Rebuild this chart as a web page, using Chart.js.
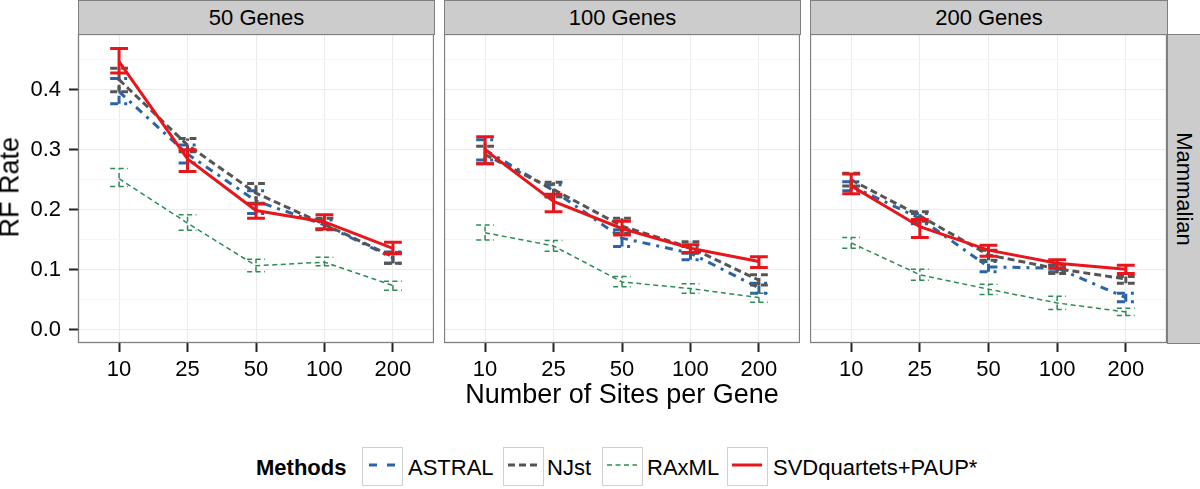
<!DOCTYPE html>
<html>
<head>
<meta charset="utf-8">
<script src="https://cdn.jsdelivr.net/npm/chart.js@4.4.1/dist/chart.umd.min.js"></script>
<style>
  body { margin: 0; background: #fff; font-family: "Liberation Sans", Arial, sans-serif; }
  #page { position: relative; width: 1200px; height: 489px; overflow: hidden; }
  .box { position: absolute; }
  .strip { position: absolute; background: #cccccc; border: 1px solid #7f7f7f; box-sizing: border-box;
           font-size: 22px; color: #000; display: flex; align-items: center; justify-content: center; }
  .txt { position: absolute; white-space: nowrap; color: #000; }
  .key { position: absolute; top: 447px; width: 41px; height: 39px; border: 1.5px solid #d0d0d0; box-sizing: border-box; background: #fff; }
</style>
</head>
<body>
<div id="page">
  <div class="strip" style="left:78px;top:0;width:357px;height:35px">50 Genes</div>
  <div class="strip" style="left:444px;top:0;width:357px;height:35px">100 Genes</div>
  <div class="strip" style="left:810px;top:0;width:358px;height:35px">200 Genes</div>
  <div class="strip" style="left:1167px;top:34px;width:34px;height:310px">
    <span style="transform:rotate(90deg);display:inline-block">Mammalian</span>
  </div>

  <div class="box" style="left:0;top:34px;width:434px;height:360px"><canvas id="p1" width="434" height="360"></canvas></div>
  <div class="box" style="left:444px;top:34px;width:356px;height:360px"><canvas id="p2" width="356" height="360"></canvas></div>
  <div class="box" style="left:810px;top:34px;width:357px;height:360px"><canvas id="p3" width="357" height="360"></canvas></div>

  <div class="txt" style="left:-40px;top:174px;width:100px;text-align:center;font-size:27px;line-height:27px;transform:rotate(-90deg)">RF Rate</div>
  <div class="txt" style="left:422px;top:381px;width:400px;text-align:center;font-size:27px;line-height:27px">Number of Sites per Gene</div>

  <div class="txt" style="left:256px;top:457px;font-size:22px;line-height:22px;font-weight:bold">Methods</div>
  <div class="key" style="left:362px"><svg width="38" height="36"><line x1="6" y1="17" x2="32" y2="17" stroke="#2B63A7" stroke-width="3" stroke-dasharray="8 10"/></svg></div>
  <div class="txt" style="left:408px;top:457px;font-size:22px;line-height:22px">ASTRAL</div>
  <div class="key" style="left:503px"><svg width="38" height="36"><line x1="4" y1="17" x2="34" y2="17" stroke="#555555" stroke-width="3" stroke-dasharray="7 4"/></svg></div>
  <div class="txt" style="left:547px;top:457px;font-size:22px;line-height:22px">NJst</div>
  <div class="key" style="left:602px"><svg width="38" height="36"><line x1="4" y1="17" x2="34" y2="17" stroke="#2E8B57" stroke-width="1.5" stroke-dasharray="5 3.5"/></svg></div>
  <div class="txt" style="left:647px;top:457px;font-size:22px;line-height:22px">RAxML</div>
  <div class="key" style="left:727px"><svg width="38" height="36"><line x1="4" y1="17" x2="34" y2="17" stroke="#E8161B" stroke-width="3"/></svg></div>
  <div class="txt" style="left:773px;top:457px;font-size:22px;line-height:22px">SVDquartets+PAUP*</div>
</div>

<script>
// categories and ticks
var sites = ['10', '25', '50', '100', '200'];
var yTicks = [0, 0.05, 0.1, 0.15, 0.2, 0.25, 0.3, 0.35, 0.4, 0.45];
var methods = ['ASTRAL', 'NJst', 'RAxML', 'SVDquartets+PAUP*'];

// 50 genes
var astral50 = [0.397, 0.293, 0.215, 0.175, 0.120];
var astral50Lo = [0.377, 0.278, 0.194, 0.168, 0.111];
var astral50Hi = [0.419, 0.308, 0.232, 0.183, 0.130];
var njst50 = [0.417, 0.308, 0.228, 0.176, 0.122];
var njst50Lo = [0.397, 0.297, 0.211, 0.167, 0.111];
var njst50Hi = [0.436, 0.319, 0.244, 0.186, 0.129];
var raxml50 = [0.252, 0.178, 0.107, 0.113, 0.074];
var raxml50Lo = [0.239, 0.166, 0.097, 0.107, 0.066];
var raxml50Hi = [0.269, 0.192, 0.118, 0.121, 0.081];
var svd50 = [0.447, 0.285, 0.199, 0.180, 0.136];
var svd50Lo = [0.428, 0.264, 0.186, 0.168, 0.127];
var svd50Hi = [0.469, 0.300, 0.210, 0.192, 0.146];

// 100 genes
var astral100 = [0.300, 0.232, 0.153, 0.128, 0.070];
var astral100Lo = [0.283, 0.222, 0.139, 0.117, 0.061];
var astral100Hi = [0.317, 0.242, 0.167, 0.139, 0.078];
var njst100 = [0.292, 0.234, 0.173, 0.137, 0.083];
var njst100Lo = [0.277, 0.222, 0.161, 0.128, 0.075];
var njst100Hi = [0.306, 0.246, 0.186, 0.147, 0.092];
var raxml100 = [0.162, 0.140, 0.080, 0.069, 0.054];
var raxml100Lo = [0.150, 0.131, 0.072, 0.061, 0.046];
var raxml100Hi = [0.175, 0.149, 0.089, 0.077, 0.061];
var svd100 = [0.300, 0.214, 0.169, 0.136, 0.114];
var svd100Lo = [0.277, 0.197, 0.158, 0.129, 0.104];
var svd100Hi = [0.322, 0.226, 0.181, 0.142, 0.122];

// 200 genes
var astral200 = [0.240, 0.186, 0.105, 0.103, 0.054];
var astral200Lo = [0.232, 0.177, 0.097, 0.097, 0.047];
var astral200Hi = [0.247, 0.194, 0.114, 0.108, 0.061];
var njst200 = [0.250, 0.190, 0.125, 0.102, 0.085];
var njst200Lo = [0.240, 0.181, 0.116, 0.094, 0.078];
var njst200Hi = [0.261, 0.197, 0.133, 0.108, 0.089];
var raxml200 = [0.145, 0.092, 0.068, 0.045, 0.030];
var raxml200Lo = [0.136, 0.083, 0.059, 0.034, 0.024];
var raxml200Hi = [0.154, 0.101, 0.076, 0.056, 0.036];
var svd200 = [0.240, 0.172, 0.133, 0.111, 0.101];
var svd200Lo = [0.227, 0.154, 0.123, 0.103, 0.094];
var svd200Hi = [0.260, 0.184, 0.141, 0.117, 0.108];

// look of each method
var colors = ['#2B63A7', '#555555', '#2E8B57', '#E8161B'];
var widths = [3, 3, 1.5, 3];
var dashes = [[8, 6, 3, 6], [7, 4], [5, 3.5], []];
var order = [4, 3, 2, 1];

function isMajor(v) {
  return Math.abs(v * 10 - Math.round(v * 10)) < 1e-6;
}

// error bars, drawn right after each line so the stacking follows ggplot
var errorBars = {
  id: 'errorBars',
  afterDatasetDraw: function(chart, args) {
    var ds = chart.data.datasets[args.index];
    var xs = chart.scales.x, ys = chart.scales.y;
    var ctx = chart.ctx;
    var a = chart.chartArea;
    ctx.save();
    ctx.beginPath();
    ctx.rect(a.left, a.top, a.right - a.left, a.bottom - a.top);
    ctx.clip();
    ctx.strokeStyle = ds.borderColor;
    ctx.lineWidth = ds.borderWidth;
    ctx.setLineDash(ds.borderDash);
    for (var i = 0; i < ds.lo.length; i++) {
      var x = xs.getPixelForValue(i);
      var hw = xs.getPixelForValue(i + 0.13) - x;
      var y1 = ys.getPixelForValue(ds.lo[i]);
      var y2 = ys.getPixelForValue(ds.hi[i]);
      ctx.beginPath();
      ctx.moveTo(x, y1); ctx.lineTo(x, y2);
      ctx.moveTo(x - hw, y1); ctx.lineTo(x + hw, y1);
      ctx.moveTo(x - hw, y2); ctx.lineTo(x + hw, y2);
      ctx.stroke();
    }
    ctx.restore();
  }
};

var frame = {
  id: 'frame',
  afterDraw: function(chart) {
    var a = chart.chartArea, ctx = chart.ctx;
    ctx.save();
    ctx.strokeStyle = '#7f7f7f';
    ctx.lineWidth = 1.3;
    ctx.strokeRect(a.left + 0.5, a.top + 0.5, a.right - a.left - 1, a.bottom - a.top - 1);
    ctx.restore();
  }
};

function makePanel(id, means, los, his, showY) {
  var datasets = [];
  for (var m = 0; m < methods.length; m++) {
    datasets.push({
      label: methods[m],
      data: means[m].map(function(v, i) { return {x: i, y: v}; }),
      lo: los[m],
      hi: his[m],
      borderColor: colors[m],
      borderWidth: widths[m],
      borderDash: dashes[m],
      pointRadius: 0,
      tension: 0,
      fill: false,
      order: order[m]
    });
  }
  new Chart(document.getElementById(id), {
    type: 'line',
    data: { datasets: datasets },
    plugins: [errorBars, frame],
    options: {
      responsive: false,
      animation: false,
      devicePixelRatio: 1,
      layout: { padding: 0 },
      plugins: { legend: { display: false }, tooltip: { enabled: false } },
      scales: {
        x: {
          type: 'linear',
          min: -0.6,
          max: 4.6,
          afterBuildTicks: function(s) { s.ticks = sites.map(function(t, i) { return {value: i}; }); },
          afterFit: function(s) { s.height = 51; s.paddingLeft = 0; s.paddingRight = 0; },
          border: { display: false },
          grid: { color: '#ebebeb', lineWidth: 1, tickColor: '#222', tickWidth: 2, tickLength: 9 },
          ticks: {
            padding: 5,
            color: '#000',
            font: { family: '"Liberation Sans", Arial, sans-serif', size: 22 },
            maxRotation: 0,
            autoSkip: false,
            callback: function(v) { return sites[v]; }
          }
        },
        y: {
          type: 'linear',
          min: -0.0217,
          max: 0.493,
          afterBuildTicks: function(s) { s.ticks = yTicks.map(function(v) { return {value: v}; }); },
          afterFit: function(s) { s.width = showY ? 78 : 0; s.paddingTop = 0; s.paddingBottom = 0; },
          border: { display: false },
          grid: {
            color: function(c) { return isMajor(c.tick.value) ? '#ebebeb' : '#f5f5f5'; },
            lineWidth: 1,
            tickColor: function(c) { return isMajor(c.tick.value) ? '#222' : 'rgba(0,0,0,0)'; },
            tickWidth: 2,
            tickLength: 9
          },
          ticks: {
            display: showY,
            padding: 8,
            color: '#000',
            font: { family: '"Liberation Sans", Arial, sans-serif', size: 22 },
            autoSkip: false,
            callback: function(v) { return isMajor(v) ? v.toFixed(1) : ''; }
          }
        }
      }
    }
  });
}

makePanel('p1', [astral50, njst50, raxml50, svd50], [astral50Lo, njst50Lo, raxml50Lo, svd50Lo], [astral50Hi, njst50Hi, raxml50Hi, svd50Hi], true);
makePanel('p2', [astral100, njst100, raxml100, svd100], [astral100Lo, njst100Lo, raxml100Lo, svd100Lo], [astral100Hi, njst100Hi, raxml100Hi, svd100Hi], false);
makePanel('p3', [astral200, njst200, raxml200, svd200], [astral200Lo, njst200Lo, raxml200Lo, svd200Lo], [astral200Hi, njst200Hi, raxml200Hi, svd200Hi], false);
</script>
</body>
</html>
